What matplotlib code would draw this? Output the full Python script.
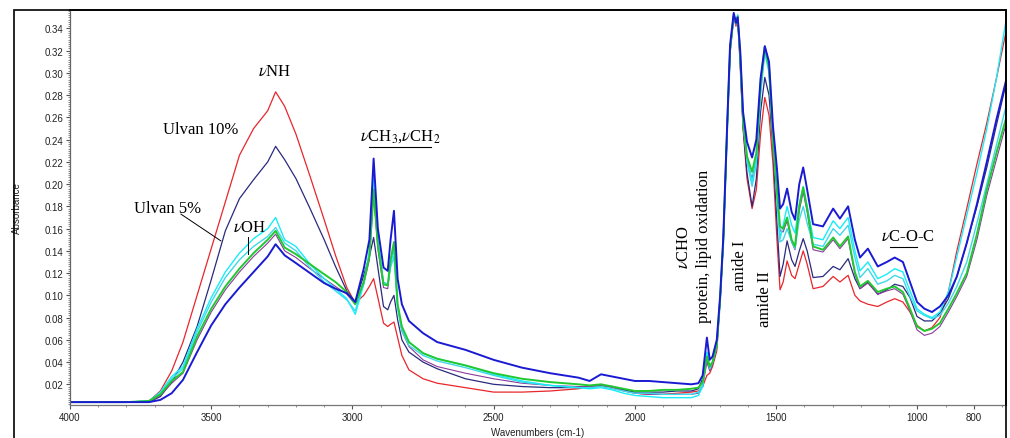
import matplotlib
matplotlib.use('Agg')
import matplotlib.pyplot as plt
from matplotlib.patches import Rectangle
from matplotlib.ticker import MultipleLocator, FormatStrFormatter

plt.rcParams['mathtext.fontset'] = 'stix'

# wavenumber grid (cm-1)
wn = [4000, 3800, 3720, 3680, 3640, 3600, 3550, 3500, 3450, 3400,
      3350, 3300, 3272, 3240, 3200, 3150, 3100, 3060, 3020, 2990,
      2960, 2940, 2925, 2910, 2890, 2875, 2865, 2853, 2840, 2825,
      2800, 2750, 2700, 2600, 2500, 2400, 2300, 2200, 2160, 2120,
      2080, 2040, 2000, 1950, 1900, 1850, 1800, 1775, 1760, 1745,
      1735, 1725, 1710, 1698, 1687, 1673, 1663, 1650, 1642, 1636,
      1627, 1617, 1603, 1585, 1570, 1555, 1540, 1525, 1511, 1497,
      1486, 1475, 1461, 1445, 1433, 1418, 1404, 1390, 1369, 1334,
      1298, 1274, 1245, 1221, 1203, 1175, 1140, 1108, 1080, 1051,
      1026, 1001, 975, 948, 920, 890, 860, 825, 789, 754,
      720, 686]

# Ulvan 10% (red)
red = [0.004, 0.004, 0.005, 0.014, 0.032, 0.058, 0.100, 0.142, 0.184, 0.226,
       0.250, 0.266, 0.283, 0.270, 0.245, 0.207, 0.168, 0.136, 0.107, 0.093,
       0.100, 0.108, 0.115, 0.098, 0.075, 0.072, 0.074, 0.076, 0.062, 0.046,
       0.033, 0.025, 0.021, 0.017, 0.013, 0.013, 0.014, 0.016, 0.018, 0.019,
       0.018, 0.015, 0.012, 0.011, 0.011, 0.012, 0.013, 0.014, 0.018, 0.028,
       0.030, 0.036, 0.050, 0.097, 0.148, 0.250, 0.318, 0.350, 0.342, 0.350,
       0.305, 0.250, 0.205, 0.178, 0.195, 0.245, 0.278, 0.262, 0.218, 0.150,
       0.105, 0.112, 0.131, 0.118, 0.115, 0.128, 0.140, 0.128, 0.106, 0.108,
       0.117, 0.112, 0.118, 0.100, 0.095, 0.092, 0.090, 0.094, 0.097, 0.094,
       0.085, 0.073, 0.068, 0.071, 0.080, 0.103, 0.140, 0.178, 0.218, 0.255,
       0.295, 0.337]

# Ulvan 5% (navy)
navy = [0.004, 0.004, 0.004, 0.009, 0.022, 0.040, 0.072, 0.114, 0.158, 0.187,
        0.204, 0.220, 0.234, 0.222, 0.205, 0.178, 0.150, 0.126, 0.104, 0.094,
        0.118, 0.135, 0.152, 0.125, 0.090, 0.087, 0.094, 0.100, 0.078, 0.060,
        0.049, 0.040, 0.034, 0.025, 0.020, 0.018, 0.017, 0.017, 0.018, 0.019,
        0.018, 0.015, 0.013, 0.013, 0.013, 0.014, 0.014, 0.016, 0.025, 0.043,
        0.036, 0.040, 0.055, 0.097, 0.148, 0.252, 0.320, 0.352, 0.345, 0.352,
        0.310, 0.252, 0.210, 0.180, 0.205, 0.265, 0.296, 0.280, 0.232, 0.165,
        0.117, 0.128, 0.149, 0.132, 0.126, 0.140, 0.151, 0.140, 0.116, 0.117,
        0.126, 0.123, 0.133, 0.115, 0.106, 0.112, 0.101, 0.105, 0.110, 0.108,
        0.098, 0.081, 0.077, 0.077, 0.084, 0.097, 0.117, 0.147, 0.180, 0.215,
        0.253, 0.290]

blue = [0.004, 0.004, 0.004, 0.006, 0.012, 0.024, 0.049, 0.073, 0.092, 0.107,
        0.121, 0.135, 0.146, 0.136, 0.129, 0.120, 0.111, 0.106, 0.102, 0.094,
        0.124, 0.150, 0.223, 0.160, 0.125, 0.122, 0.150, 0.176, 0.115, 0.092,
        0.077, 0.066, 0.058, 0.051, 0.042, 0.035, 0.030, 0.026, 0.023, 0.029,
        0.027, 0.025, 0.023, 0.023, 0.022, 0.021, 0.020, 0.021, 0.028, 0.062,
        0.042, 0.045, 0.060, 0.100, 0.152, 0.255, 0.325, 0.354, 0.345, 0.350,
        0.320, 0.265, 0.238, 0.224, 0.240, 0.295, 0.324, 0.310, 0.252, 0.214,
        0.178, 0.182, 0.196, 0.175, 0.168, 0.200, 0.215, 0.195, 0.164, 0.162,
        0.178, 0.169, 0.180, 0.150, 0.134, 0.142, 0.126, 0.130, 0.134, 0.130,
        0.112, 0.094, 0.088, 0.085, 0.090, 0.100, 0.117, 0.147, 0.182, 0.220,
        0.258, 0.293]

cyan1 = [0.004, 0.004, 0.005, 0.013, 0.027, 0.036, 0.070, 0.098, 0.121, 0.138,
         0.151, 0.160, 0.170, 0.150, 0.144, 0.128, 0.115, 0.106, 0.097, 0.083,
         0.110, 0.140, 0.205, 0.150, 0.110, 0.109, 0.128, 0.142, 0.090, 0.070,
         0.058, 0.048, 0.043, 0.037, 0.029, 0.023, 0.019, 0.017, 0.016, 0.017,
         0.015, 0.012, 0.010, 0.009, 0.008, 0.008, 0.008, 0.010, 0.018, 0.049,
         0.034, 0.040, 0.055, 0.097, 0.150, 0.252, 0.322, 0.352, 0.345, 0.352,
         0.315, 0.258, 0.225, 0.202, 0.222, 0.285, 0.322, 0.305, 0.245, 0.192,
         0.151, 0.163, 0.180, 0.163, 0.156, 0.182, 0.198, 0.180, 0.152, 0.150,
         0.167, 0.160, 0.170, 0.140, 0.122, 0.130, 0.115, 0.119, 0.124, 0.121,
         0.104, 0.088, 0.083, 0.080, 0.085, 0.103, 0.135, 0.172, 0.210, 0.250,
         0.295, 0.347]

cyan2 = [0.004, 0.004, 0.005, 0.012, 0.025, 0.034, 0.067, 0.094, 0.116, 0.132,
         0.144, 0.153, 0.161, 0.147, 0.140, 0.125, 0.112, 0.104, 0.096, 0.086,
         0.112, 0.138, 0.198, 0.148, 0.112, 0.110, 0.125, 0.135, 0.088, 0.068,
         0.055, 0.046, 0.041, 0.035, 0.028, 0.022, 0.019, 0.017, 0.017, 0.018,
         0.016, 0.014, 0.012, 0.012, 0.011, 0.011, 0.011, 0.013, 0.020, 0.048,
         0.035, 0.040, 0.055, 0.097, 0.149, 0.252, 0.320, 0.350, 0.344, 0.350,
         0.312, 0.255, 0.220, 0.198, 0.218, 0.280, 0.318, 0.300, 0.240, 0.185,
         0.148, 0.150, 0.160, 0.148, 0.142, 0.168, 0.180, 0.165, 0.146, 0.144,
         0.160, 0.154, 0.163, 0.134, 0.116, 0.124, 0.110, 0.113, 0.118, 0.115,
         0.099, 0.086, 0.082, 0.079, 0.082, 0.093, 0.108, 0.130, 0.165, 0.200,
         0.235, 0.270]

green = [0.004, 0.004, 0.005, 0.011, 0.023, 0.031, 0.063, 0.088, 0.108, 0.124,
         0.138, 0.150, 0.158, 0.143, 0.137, 0.128, 0.119, 0.112, 0.103, 0.092,
         0.112, 0.135, 0.195, 0.145, 0.110, 0.109, 0.132, 0.148, 0.092, 0.072,
         0.058, 0.048, 0.043, 0.037, 0.030, 0.025, 0.022, 0.020, 0.019, 0.020,
         0.018, 0.016, 0.014, 0.014, 0.015, 0.015, 0.016, 0.017, 0.022, 0.045,
         0.036, 0.040, 0.055, 0.097, 0.148, 0.252, 0.320, 0.352, 0.345, 0.350,
         0.315, 0.258, 0.225, 0.211, 0.228, 0.290, 0.324, 0.305, 0.240, 0.195,
         0.162, 0.160, 0.170, 0.150, 0.144, 0.180, 0.197, 0.178, 0.144, 0.141,
         0.152, 0.144, 0.153, 0.121, 0.108, 0.113, 0.103, 0.106, 0.108, 0.103,
         0.088, 0.072, 0.068, 0.070, 0.075, 0.088, 0.102, 0.120, 0.155, 0.195,
         0.228, 0.259]

purple = [0.004, 0.004, 0.004, 0.010, 0.021, 0.030, 0.060, 0.085, 0.105, 0.121,
          0.135, 0.147, 0.155, 0.140, 0.134, 0.124, 0.115, 0.108, 0.101, 0.092,
          0.110, 0.132, 0.190, 0.142, 0.107, 0.106, 0.128, 0.144, 0.090, 0.068,
          0.054, 0.042, 0.036, 0.030, 0.025, 0.021, 0.019, 0.018, 0.018, 0.019,
          0.017, 0.014, 0.012, 0.011, 0.011, 0.011, 0.011, 0.012, 0.018, 0.040,
          0.032, 0.038, 0.053, 0.096, 0.148, 0.252, 0.320, 0.350, 0.344, 0.350,
          0.312, 0.255, 0.220, 0.205, 0.222, 0.285, 0.320, 0.302, 0.236, 0.190,
          0.158, 0.157, 0.167, 0.148, 0.141, 0.176, 0.193, 0.175, 0.141, 0.139,
          0.150, 0.142, 0.151, 0.119, 0.106, 0.111, 0.101, 0.104, 0.106, 0.101,
          0.086, 0.069, 0.064, 0.066, 0.072, 0.085, 0.099, 0.117, 0.150, 0.190,
          0.222, 0.254]

xticks = [4000, 3500, 3000, 2500, 2000, 1500, 1000, 800]

series = [
    (red, '#e8262b', 0.9),
    (navy, '#2a2a7e', 0.9),
    (purple, '#8a3c9c', 0.8),
    (cyan2, '#3fd8e8', 1.0),
    (cyan1, '#18ecf8', 1.0),
    (green, '#22c830', 1.4),
    (blue, '#1a1ad2', 1.4),
]

fig = plt.figure(figsize=(10.1, 4.39), dpi=100)
ax = fig.add_axes([70 / 1010, 33 / 439, 936 / 1010, 395 / 439])

for vals, col, lw in series:
    ax.plot(wn, vals, color=col, lw=lw)

ax.set_xlim(4000, 686)
ax.set_ylim(0.0014, 0.3566)

ax.set_xticks(xticks)
ax.set_xticklabels([str(t) for t in xticks])
ax.xaxis.set_minor_locator(MultipleLocator(100))
ax.yaxis.set_major_locator(MultipleLocator(0.02))
ax.yaxis.set_major_formatter(FormatStrFormatter('%.2f'))
ax.yaxis.set_minor_locator(MultipleLocator(0.002))
ax.tick_params(which='major', direction='out', length=3, width=0.8,
               color='#555555', labelsize=7, labelcolor='#222222', pad=2)
ax.tick_params(which='minor', direction='out', length=1.5, width=0.6,
               color='#777777')
for lab in ax.get_xticklabels() + ax.get_yticklabels():
    lab.set_fontfamily('Liberation Sans')

for s in ['top', 'right']:
    ax.spines[s].set_color('black')
    ax.spines[s].set_linewidth(1.2)
ax.spines['left'].set_color('#666666')
ax.spines['left'].set_linestyle((0, (1, 1)))
ax.spines['left'].set_linewidth(0.9)
ax.spines['bottom'].set_color('#777777')
ax.spines['bottom'].set_linewidth(0.9)

ax.set_ylabel('Absorbance', fontsize=7, family='Liberation Sans', color='#222222')
ax.yaxis.set_label_coords(-0.051, 0.5)
ax.set_xlabel('Wavenumbers (cm-1)', fontsize=7, family='Liberation Sans',
              color='#222222', labelpad=4)

# outer frame of the picture
fig.add_artist(Rectangle((14 / 1010, -0.05), 992 / 1010, 1 - 11 / 439 + 0.05,
                         transform=fig.transFigure, fill=False,
                         ec='black', lw=1.2))

serif = 'Liberation Serif'
fs = 12
ax.text(3275, 0.302, r'$\nu$NH', fontsize=fs, family=serif, ha='center', va='center')
ax.text(3537, 0.2496, 'Ulvan 10%', fontsize=fs, family=serif, ha='center', va='center')
ax.text(3653, 0.1785, 'Ulvan 5%', fontsize=fs, family=serif, ha='center', va='center')
ax.plot([3607, 3466], [0.173, 0.149], color='black', lw=0.7)
ax.text(3364, 0.1615, r'$\nu$OH', fontsize=fs, family=serif, ha='center', va='center')
ax.plot([3371, 3371], [0.1525, 0.1372], color='black', lw=0.7)
ax.text(2830, 0.2433, r'$\nu$CH$_3$,$\nu$CH$_2$', fontsize=fs, family=serif,
        ha='center', va='center')
ax.plot([2943, 2723], [0.2335, 0.2335], color='black', lw=0.8)
ax.text(1790, 0.1445, '$\\nu$CHO\nprotein, lipid oxidation', fontsize=fs,
        family=serif, rotation=90, ha='center', va='center',
        multialignment='center', linespacing=1.3)
ax.text(1627, 0.1273, 'amide I', fontsize=fs, family=serif, rotation=90,
        ha='center', va='center')
ax.text(1539, 0.0976, 'amide II', fontsize=fs, family=serif, rotation=90,
        ha='center', va='center')
ax.text(1033, 0.1534, r'$\nu$C-O-C', fontsize=fs, family=serif, ha='center', va='center')
ax.plot([1097, 1001], [0.1435, 0.1435], color='black', lw=0.8)

fig.savefig('out.png', dpi=100)
